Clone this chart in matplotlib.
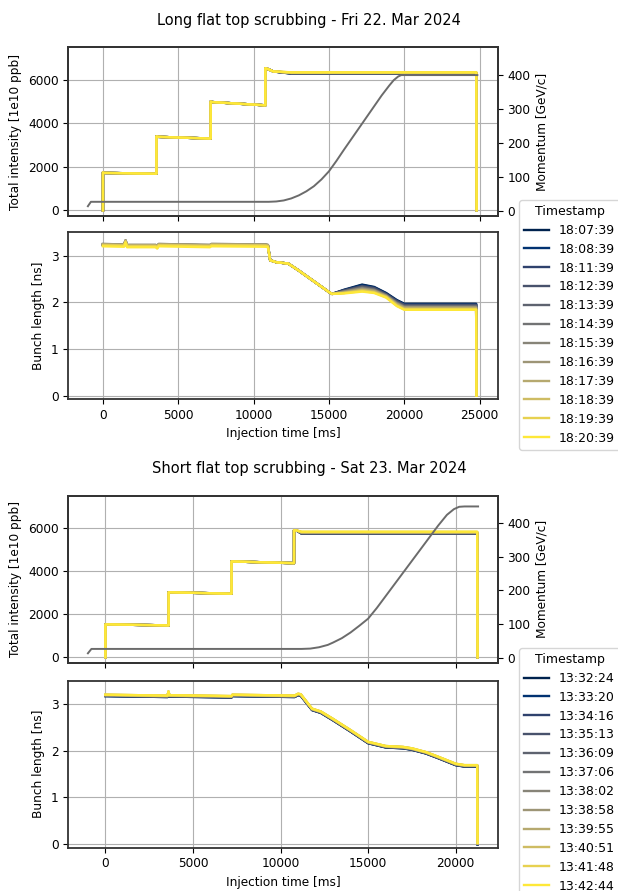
import matplotlib.pyplot as plt
import numpy as np

LONG_TITLE = "Long flat top scrubbing - Fri 22. Mar 2024"
SHORT_TITLE = "Short flat top scrubbing - Sat 23. Mar 2024"

LONG_STAMPS = ["18:07:39", "18:08:39", "18:11:39", "18:12:39", "18:13:39", "18:14:39",
               "18:15:39", "18:16:39", "18:17:39", "18:18:39", "18:19:39", "18:20:39"]
SHORT_STAMPS = ["13:32:24", "13:33:20", "13:34:16", "13:35:13", "13:36:09", "13:37:06",
                "13:38:02", "13:38:58", "13:39:55", "13:40:51", "13:41:48", "13:42:44"]

# momentum programs [GeV/c]
LONG_P_T = [-1000, -800, 11000, 11500, 12000, 12500, 13000, 13500, 14000, 14500, 15000,
            15500, 16000, 17000, 18000, 18500, 19000, 19300, 19600, 19800, 24850]
LONG_P = [13, 26, 26, 27, 30, 36, 45, 57, 72, 92, 116, 147, 180, 244, 308, 340, 369,
          385, 396, 400, 400]
SHORT_P_T = [-1000, -800, 11200, 11700, 12200, 12700, 13000, 13500, 14000, 14500, 15000,
             15500, 16000, 17000, 18000, 19000, 19500, 19900, 20200, 20500, 21280]
SHORT_P = [13, 26, 26, 27, 31, 38, 45, 58, 75, 95, 116, 148, 183, 253, 323, 393, 425,
           442, 449, 450, 450]

# total intensity [1e10 ppb]: injections, then flat top level of each cycle
LONG_I_T = [0, 0, 50, 3550, 3550, 3650, 7150, 7150, 7250, 10780, 10780, 10950, 11300]
LONG_I = [0, 1740, 1720, 1680, 3400, 3380, 3300, 5000, 4980, 4830, 6540, 6500, 6390]
LONG_TOP_T = [12500, 24780, 24800]
LONG_I_TOP = [6290, 6295, 6300, 6305, 6310, 6315, 6320, 6325, 6330, 6340, 6345, 6350]
SHORT_I_T = [0, 0, 3610, 3610, 7200, 7200, 10770, 10770, 10900]
SHORT_I = [0, 1530, 1480, 3020, 2950, 4450, 4370, 5900, 5890]
SHORT_TOP_T = [11200, 21230, 21250]
SHORT_I_TOP = [5740, 5745, 5750, 5755, 5760, 5770, 5780, 5790, 5800, 5810, 5820, 5830]

# bunch length [ns], long flat top: injection plateau, ramp, per-cycle tail
LONG_BL_T = [0, 1400, 1500, 1600, 3500, 3600, 3700, 7100, 7200, 7300, 10800, 10950,
             11100, 11500, 12300, 13000, 14000, 15000, 15200]
LONG_BL = [3.20, 3.19, 3.28, 3.18, 3.18, 3.15, 3.20, 3.18, 3.20, 3.20, 3.19, 3.18,
           2.90, 2.86, 2.83, 2.68, 2.45, 2.22, 2.18]
LONG_BL_INJ_SHIFT = [0.03, 0.04, 0.03, 0.02, 0.03, 0.04, 0.05, 0.05, 0.04, 0.03, 0.02, 0.0]
TAIL_T = [16000, 17200, 18000, 18800, 19500, 20000, 24770, 24790]
BL_16000 = [2.27, 2.26, 2.26, 2.25, 2.24, 2.23, 2.23, 2.22, 2.21, 2.20, 2.20, 2.19]
BL_17200 = [2.38, 2.37, 2.35, 2.34, 2.33, 2.31, 2.30, 2.29, 2.27, 2.26, 2.24, 2.23]
BL_18000 = [2.33, 2.32, 2.31, 2.30, 2.28, 2.27, 2.26, 2.25, 2.24, 2.22, 2.21, 2.20]
BL_18800 = [2.20, 2.19, 2.18, 2.17, 2.16, 2.15, 2.14, 2.14, 2.13, 2.12, 2.11, 2.10]
BL_19500 = [2.05, 2.04, 2.03, 2.02, 2.00, 1.99, 1.98, 1.97, 1.96, 1.94, 1.93, 1.92]
BL_FLAT = [1.97, 1.96, 1.95, 1.94, 1.92, 1.91, 1.90, 1.89, 1.88, 1.86, 1.85, 1.84]

# bunch length [ns], short flat top
SHORT_BL_T = [0, 3550, 3600, 3650, 7200, 7250, 10800, 11000, 11150, 11800, 12300, 13000,
              14000, 15000, 16000, 17000, 17500, 18300, 19000, 20000, 20500, 21230, 21250]
SHORT_BL = [3.20, 3.18, 3.27, 3.19, 3.17, 3.20, 3.18, 3.22, 3.21, 2.90, 2.84, 2.68,
            2.44, 2.19, 2.10, 2.08, 2.05, 1.97, 1.87, 1.72, 1.69, 1.69, 0.02]
SHORT_BL_SHIFT = [-0.03, -0.03, -0.025, -0.02, -0.02, -0.015, -0.01, -0.01, -0.005, 0, 0, 0]

plt.rcParams['font.size'] = 8.75
plt.rcParams['axes.edgecolor'] = '0.2'
plt.rcParams['axes.linewidth'] = 1.3

W, H = 618.0, 891.0
fig = plt.figure(figsize=(W / 100, H / 100), dpi=100)
colors = plt.cm.cividis(np.linspace(0, 1, len(LONG_STAMPS)))
LW = 1.7


def box(top, bottom):
    return [68.3 / W, 1 - bottom / H, (497.7 - 68.3) / W, (bottom - top) / H]


def intensity_panel(ax, t, vals, top_t, tops, pt, p):
    for i, top in enumerate(tops):
        ax.plot(t + top_t, vals + [top, top, 0], color=colors[i], lw=LW)
    ax.set_ylim(-250, 7500)
    ax.set_yticks([0, 2000, 4000, 6000])
    ax.set_ylabel("Total intensity [1e10 ppb]")
    ax.grid(True)
    ax.tick_params(labelbottom=False)
    axp = ax.twinx()
    axp.plot(pt, p, color='0.42', lw=1.4)
    axp.set_ylim(-15, 482)
    axp.set_yticks([0, 100, 200, 300, 400])
    axp.set_ylabel("Momentum [GeV/c]")
    return axp


def add_legend(handles, labels, top):
    fig.legend(handles, labels, title="Timestamp", loc="upper left", fontsize=9,
               title_fontsize=9, labelspacing=0.47,
               bbox_to_anchor=(519 / W, 1 - top / H), borderaxespad=0)


# ---- long flat top ----
ax1 = fig.add_axes(box(47.3, 215.7))
ax2 = fig.add_axes(box(232.3, 399), sharex=ax1)
intensity_panel(ax1, LONG_I_T, LONG_I, LONG_TOP_T, LONG_I_TOP, LONG_P_T, LONG_P)

handles = []
n_inj = 12
for i in range(len(LONG_STAMPS)):
    head = [v + LONG_BL_INJ_SHIFT[i] for v in LONG_BL[:n_inj]]
    y = head + LONG_BL[n_inj:] + [BL_16000[i], BL_17200[i], BL_18000[i], BL_18800[i],
                                  BL_19500[i], BL_FLAT[i], BL_FLAT[i], 0.0]
    h, = ax2.plot(LONG_BL_T + TAIL_T, y, color=colors[i], lw=LW)
    handles.append(h)
ax2.set_ylim(-0.07, 3.5)
ax2.set_yticks([0, 1, 2, 3])
ax2.set_ylabel("Bunch length [ns]")
ax2.set_xlabel("Injection time [ms]")
ax2.set_xlim(-2300, 26200)
ax2.grid(True)
add_legend(handles, LONG_STAMPS, 200)
fig.text(0.5, 1 - 20 / H, LONG_TITLE, ha='center', va='center', fontsize=10.5)

# ---- short flat top ----
ax3 = fig.add_axes(box(495.7, 662.7))
ax4 = fig.add_axes(box(680.7, 847.7), sharex=ax3)
intensity_panel(ax3, SHORT_I_T, SHORT_I, SHORT_TOP_T, SHORT_I_TOP, SHORT_P_T, SHORT_P)

handles = []
for i, s in enumerate(SHORT_BL_SHIFT):
    y = np.array(SHORT_BL) + s
    h, = ax4.plot(SHORT_BL_T, y, color=colors[i], lw=LW)
    handles.append(h)
ax4.set_ylim(-0.08, 3.5)
ax4.set_yticks([0, 1, 2, 3])
ax4.set_ylabel("Bunch length [ns]")
ax4.set_xlabel("Injection time [ms]")
ax4.set_xlim(-2120, 22400)
ax4.grid(True)
add_legend(handles, SHORT_STAMPS, 648)
fig.text(0.5, 1 - 468 / H, SHORT_TITLE, ha='center', va='center', fontsize=10.5)

fig.savefig("out.png", dpi=100)
